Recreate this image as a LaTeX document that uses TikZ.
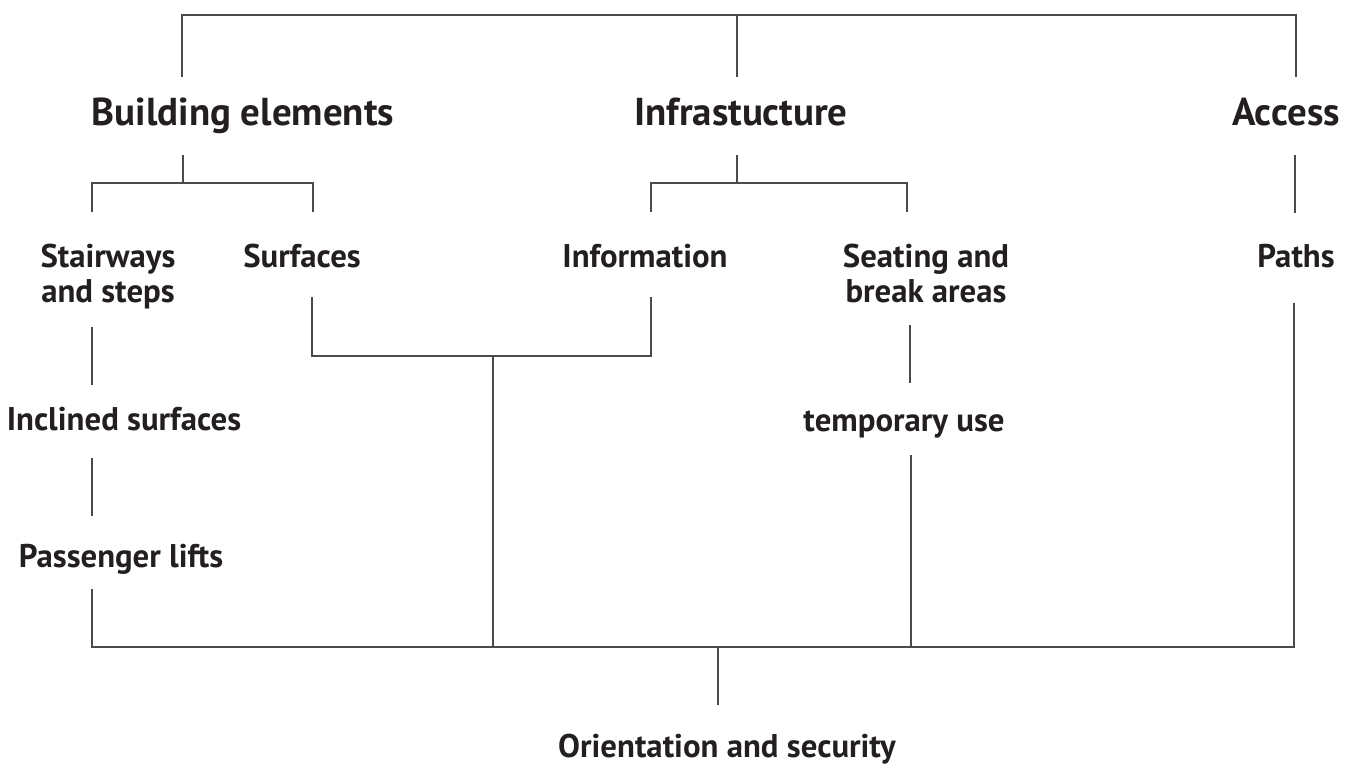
\documentclass[tikz,border=0pt]{standalone}
\usepackage{fontspec}
\setmainfont{PT Sans}
\definecolor{txt}{HTML}{231F20}
\definecolor{ln}{HTML}{4A4A4A}
\begin{document}
\begin{tikzpicture}[x=1pt,y=-1pt,
  head/.style={anchor=base,inner sep=0pt,text=txt,font=\bfseries\fontsize{38.9}{44}\selectfont},
  sub/.style={anchor=base,inner sep=0pt,text=txt,align=center,font=\bfseries\fontsize{32.8}{35}\selectfont},
  link/.style={draw=ln,line width=1.3pt}]
\useasboundingbox (0,0) rectangle (1354,765);
% texts
\node[head] (be) at (243,125) {Building elements};
\node[head] (inf) at (741,125) {Infrastucture};
\node[head] (acc) at (1286,125) {Access};
\node[sub] (st) at (108,302) {Stairways\\and steps};
\node[sub] (sf) at (302,267) {Surfaces};
\node[sub] (info) at (645,267) {Information};
\node[sub] (seat) at (926,302) {Seating and\\break areas};
\node[sub] (paths) at (1296,267) {Paths};
\node[sub] (incl) at (124,430) {Inclined surfaces};
\node[sub] (pass) at (121,567) {Passenger lifts};
\node[sub] (temp) at (904,431) {temporary use};
\node[sub] (ori) at (727,757) {Orientation and security};
% connector end points
\coordinate (beT) at (182,77);  \coordinate (infT) at (737,77);  \coordinate (accT) at (1296,77);
\coordinate (top) at (737,15);
\coordinate (beB) at (183,155); \coordinate (beJ) at (183,183);
\coordinate (stT) at (92,212);  \coordinate (sfT) at (313,212);
\coordinate (infB) at (737,155); \coordinate (infJ) at (737,183);
\coordinate (infoT) at (651,212); \coordinate (seatT) at (907,212);
\coordinate (accB) at (1295,155); \coordinate (pathsT) at (1295,213);
\coordinate (sfB) at (312,297); \coordinate (infoB) at (651,297);
\coordinate (midJ) at (493,356);
\coordinate (stB) at (92,327); \coordinate (inclT) at (92,385);
\coordinate (inclB) at (92,458); \coordinate (passT) at (92,516);
\coordinate (passB) at (92,589);
\coordinate (seatB) at (910,325); \coordinate (tempT) at (910,383);
\coordinate (tempB) at (911,455);
\coordinate (pathsB) at (1294,303);
\coordinate (botJ) at (718,647); \coordinate (oriT) at (718,705);
% connectors
\draw[link] (beT) |- (top) -| (accT);
\draw[link] (top) -- (infT);
\draw[link] (beB) -- (beJ);
\draw[link] (stT) |- (beJ) -| (sfT);
\draw[link] (infB) -- (infJ);
\draw[link] (infoT) |- (infJ) -| (seatT);
\draw[link] (accB) -- (pathsT);
\draw[link] (sfB) |- (midJ) -| (infoB);
\draw[link] (midJ) -- (midJ |- botJ);
\draw[link] (stB) -- (inclT);
\draw[link] (inclB) -- (passT);
\draw[link] (passB) |- (botJ) -| (pathsB);
\draw[link] (seatB) -- (tempT);
\draw[link] (tempB) -- (tempB |- botJ);
\draw[link] (botJ) -- (oriT);
\end{tikzpicture}
\end{document}
